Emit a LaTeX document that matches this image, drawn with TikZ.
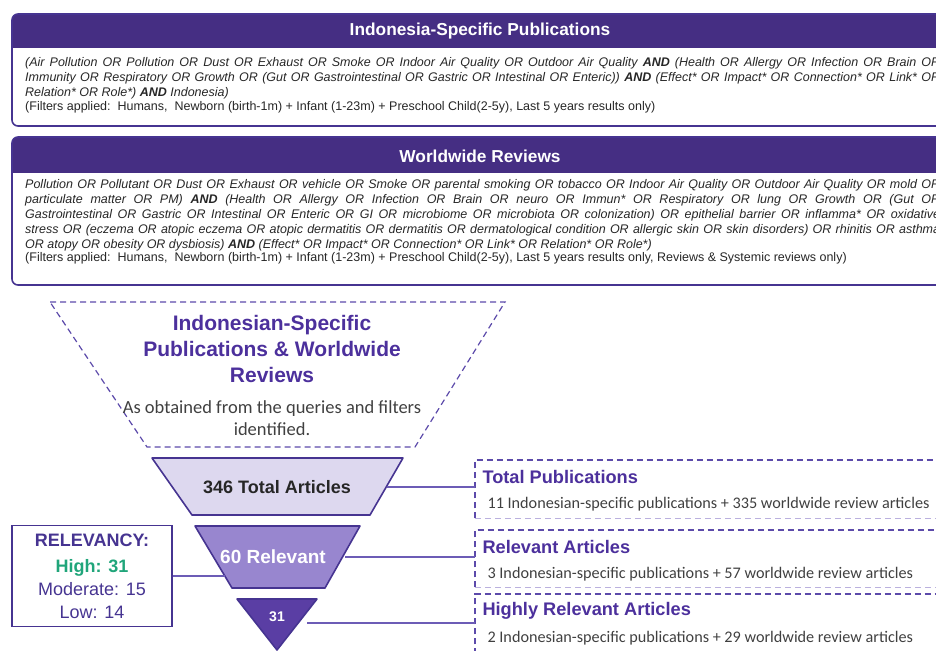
\documentclass[tikz,border=0pt]{standalone}
\usepackage{fontspec}
\setmainfont{Liberation Sans}
\newfontfamily\calibri{Carlito}
\usetikzlibrary{calc, positioning}

\definecolor{hdrpurple}{RGB}{69,46,131}
\definecolor{edgepurple}{RGB}{70,52,145}
\definecolor{titlepurple}{RGB}{76,48,156}
\definecolor{linkpurple}{RGB}{108,92,182}
\definecolor{dashdark}{RGB}{92,74,170}
\definecolor{dashlight}{RGB}{186,176,222}
\definecolor{funnelA}{RGB}{221,216,239}
\definecolor{funnelB}{RGB}{152,134,207}
\definecolor{funnelC}{RGB}{90,62,164}
\definecolor{highgreen}{RGB}{32,165,122}
\definecolor{bodygray}{RGB}{64,64,64}

\newcommand{\qand}{\textbf{AND}}
\newcommand{\qline}[1]{\makebox[915pt][s]{\itshape #1}}

\tikzset{
  qbox/.style={draw=edgepurple, line width=1.6pt, rounded corners=6pt},
  qhead/.style={text=white, font=\bfseries\fontsize{17.3}{20}\selectfont},
  qbody/.style={anchor=north west, inner sep=0pt, align=left,
                text=black!85, font=\fontsize{12.5}{15}\selectfont},
  funnel/.style={draw=edgepurple, line width=1.6pt, line join=round},
  link/.style={draw=linkpurple, line width=1.3pt},
  dashA/.style={draw=dashdark, line width=1.2pt, dash pattern=on 6pt off 4pt},
  dashB/.style={draw=dashlight, line width=1.2pt, dash pattern=on 6pt off 4pt},
  pubbox/.style={minimum width=480pt, anchor=north west, inner sep=0pt},
  pubhead/.style={anchor=west, text=titlepurple, font=\bfseries\fontsize{18.2}{20}\selectfont},
  pubtext/.style={anchor=west, text=bodygray, font=\calibri\fontsize{16.2}{18}\selectfont},
}

\begin{document}
\begin{tikzpicture}[x=1pt, y=-1pt]
  \useasboundingbox (0,0) rectangle (936,650);
  \clip (0,0) rectangle (936,650);

  % search query for the Indonesian studies
  \begin{scope}
    \clip[rounded corners=6pt] (12,14) rectangle (948,126);
    \fill[hdrpurple] (12,14) rectangle (948,48);
  \end{scope}
  \draw[qbox] (12,14) rectangle (948,126);
  \node[qhead] (hdrA) at (480,31) {Indonesia-Specific Publications};
  \node[qbody] (qryA) at (25,57) {
    \qline{(Air Pollution OR Pollution OR Dust OR Exhaust OR Smoke OR Indoor Air Quality OR Outdoor Air Quality \qand{} (Health OR Allergy OR Infection OR Brain OR}\\
    \qline{Immunity OR Respiratory OR Growth OR (Gut OR Gastrointestinal OR Gastric OR Intestinal OR Enteric)) \qand{} (Effect* OR Impact* OR Connection* OR Link* OR}\\
    {\itshape Relation* OR Role*) \qand{} Indonesia)}\\[-1pt]
    (Filters applied:\ \ Humans,\ \ Newborn (birth-1m) + Infant (1-23m) + Preschool Child(2-5y), Last 5 years results only)};

  % search query for the reviews
  \begin{scope}
    \clip[rounded corners=6pt] (12,137) rectangle (948,285);
    \fill[hdrpurple] (12,137) rectangle (948,173);
  \end{scope}
  \draw[qbox] (12,137) rectangle (948,285);
  \node[qhead] (hdrB) at (480,156) {Worldwide Reviews};
  \node[qbody] (qryB) at (25,179) {
    \qline{Pollution OR Pollutant OR Dust OR Exhaust OR vehicle OR Smoke OR parental smoking OR tobacco OR Indoor Air Quality OR Outdoor Air Quality OR mold OR}\\
    \qline{particulate matter OR PM) \qand{} (Health OR Allergy OR Infection OR Brain OR neuro OR Immun* OR Respiratory OR lung OR Growth OR (Gut OR}\\
    \qline{Gastrointestinal OR Gastric OR Intestinal OR Enteric OR GI OR microbiome OR microbiota OR colonization) OR epithelial barrier OR inflamma* OR oxidative}\\
    \qline{stress OR (eczema OR atopic eczema OR atopic dermatitis OR dermatitis OR dermatological condition OR allergic skin OR skin disorders) OR rhinitis OR asthma}\\
    {\itshape OR atopy OR obesity OR dysbiosis) \qand{} (Effect* OR Impact* OR Connection* OR Link* OR Relation* OR Role*)}\\[-2pt]
    (Filters applied:\ \ Humans,\ \ Newborn (birth-1m) + Infant (1-23m) + Preschool Child(2-5y), Last 5 years results only, Reviews \& Systemic reviews only)};

  % funnel
  \draw[dashA] (50,302) -- (505,302) -- (415,447) -- (147,447) -- cycle;
  \node[align=center, text=titlepurple, font=\bfseries\fontsize{21}{26}\selectfont]
    (src) at (272,349) {Indonesian-Specific\\Publications \& Worldwide\\Reviews};
  \node[below=11pt of src, align=center, text=bodygray, font=\calibri\fontsize{18.5}{21.5}\selectfont]
    (srcnote) {As obtained from the queries and filters\\identified.};

  \draw[funnel, fill=funnelA] (152,458) -- (403,458) -- (370,515) -- (192,515) -- cycle;
  \draw[funnel, fill=funnelB] (195,526) -- (360,526) -- (325,588) -- (232,588) -- cycle;
  \draw[funnel, fill=funnelC] (237,599) -- (317,599) -- (277,650) -- cycle;
  \node[text=black!85, font=\bfseries\fontsize{18}{20}\selectfont] (f1) at (277,487) {346 Total Articles};
  \node[text=white, font=\bfseries\fontsize{19}{21}\selectfont] (f2) at (273,557) {60 Relevant};
  \node[text=white, font=\bfseries\fontsize{14}{16}\selectfont] (f3) at (277,617) {31};
  \coordinate (f1r) at (387,487);
  \coordinate (f2r) at (345,557);
  \coordinate (f2l) at (225,576);
  \coordinate (f3r) at (307,623);

  % relevancy split
  \node[draw=edgepurple, line width=1.6pt, minimum width=160pt, minimum height=101pt,
        inner sep=0pt, align=center, text=edgepurple, font=\fontsize{18}{23}\selectfont]
    (relev) at (92,576) {\textbf{RELEVANCY:}\\[3pt]
      \textcolor{highgreen}{\textbf{High: 31}}\\ Moderate: 15\\ Low: 14};
  \draw[link] (relev.east) -- (f2l);

  % counts per stage
  \node[pubbox, minimum height=58pt] (tpub) at (475,460) {};
  \node[pubbox, minimum height=57pt] (rpub) at (475,530) {};
  \node[pubbox, minimum height=60pt] (hpub) at (475,594) {};
  \foreach \b in {tpub, rpub, hpub} {
    \draw[dashA] (\b.south west) -- (\b.north west) -- (\b.north east);
    \draw[dashB] (\b.south west) -- (\b.south east);
  }
  \node[pubhead] (tpubT) at (479,477) {Total Publications};
  \node[pubtext] (tpubS) at (484,504) {11 Indonesian-specific publications + 335 worldwide review articles};
  \node[pubhead] (rpubT) at (479,547) {Relevant Articles};
  \node[pubtext] (rpubS) at (484,574) {3 Indonesian-specific publications + 57 worldwide review articles};
  \node[pubhead] (hpubT) at (479,611) {Highly Relevant Articles};
  \node[pubtext] (hpubS) at (484,638) {2 Indonesian-specific publications + 29 worldwide review articles};

  \draw[link] (f1r) -- (f1r -| tpub.west);
  \draw[link] (f2r) -- (f2r -| rpub.west);
  \draw[link] (f3r) -- (f3r -| hpub.west);
\end{tikzpicture}
\end{document}
